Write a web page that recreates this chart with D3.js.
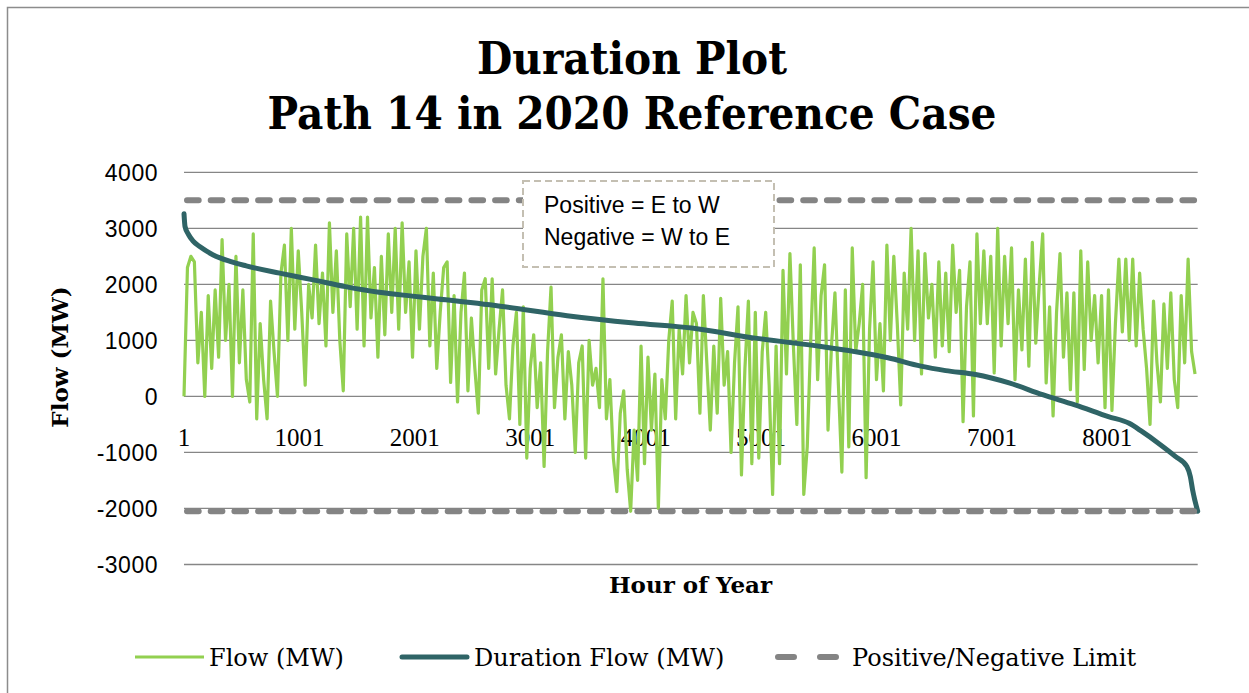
<!DOCTYPE html>
<meta charset="utf-8">
<style>
body { margin: 0; background: #fff; }
svg { display: block; }
.grid line { stroke: #868686; stroke-width: 1.3px; }
.ytick { font-family: "Liberation Sans", Arial, sans-serif; font-size: 23px; fill: #000; letter-spacing: 0.5px; }
.xtick { font-family: "Liberation Serif", serif; font-size: 25px; fill: #000; }
.slab { font-family: "DejaVu Serif", serif; font-weight: bold; fill: #000; }
.legend text { font-family: "DejaVu Serif", serif; font-size: 24px; fill: #000; }
.note { font-family: "Liberation Sans", Arial, sans-serif; font-size: 23px; fill: #000; }
</style>
<body>
<svg id="chart"></svg>
</body>
<script src="https://cdn.jsdelivr.net/npm/d3@7"></script>
<script>

var width = 1249,
    height = 693;

var titleLines = ["Duration Plot", "Path 14 in 2020 Reference Case"];
var yTicks = [-3000, -2000, -1000, 0, 1000, 2000, 3000, 4000];
var xTickHours = [1, 1001, 2001, 3001, 4001, 5001, 6001, 7001, 8001];
var hoursInYear = 8784;

var positiveLimit = 3500;
var negativeLimit = -2050;

var flowStepHours = 30;
var flowMW = [
  // hours 1 - 1000
  0, 2300, 2500, 2400, 600, 1500, 0, 1800, 500, 1900, 700, 2800, 1000, 2000, 0, 2500, 600,
  1900, 300, -100, 2900, -400, 1300, 300, -400, 1700, 800, 0, 2200, 2700, 1000, 3000, 1200, 2600,
  // 1001 - 2200
  1500, 200, 2000, 1400, 2700, 1300, 2200, 900, 3100, 1500, 2600, 1000, 100, 2900, 1600, 3000,
  1200, 3200, 900, 3200, 1400, 2300, 700, 2500, 1100, 2900, 1500, 3000, 1200, 3100, 1500, 2400,
  700, 2600, 1200, 2500, 3000, 900, 2200, 500,
  // 2200 - 4400
  1500, 2300, 2400, 250, 1800, -100, 1500, 2200, 100, 1400, 500, -300, 1900, 2100, 500, 2100,
  400, 1200, 1900, 200, -400, 900, 1500, -500, 1600, -1100, 500, 1100, -200, 600, -1250, 800,
  1950, -200, 700, 1100, -400, 800, 200, -1000, 600, 900, -1100, 1000, 200, 500, -200, 2100,
  -400, 300, -1100, -1700, -300, 100, -1300, -2050, -600, -1500, 900, -1200, 700, -600, 400,
  -2000, 300, -400, 1000, 1700, -400, 1200, 400, 1800, 600, 1500,
  // 4400 - 6600
  1300, -300, 1800, 600, -600, 900, -300, 1750, 200, 800, -1000, 600, 1600, -1400, 500, 1700,
  -1200, 1500, -1100, 800, 1500, 200, -1750, 900, -1200, 2250, 400, 2550, 900, -500, 2350,
  -1750, -900, 1000, 2650, 300, 1800, 2350, -600, 900, 1850, 200, -1350, 1900, -900, 2650, 800,
  1300, 2000, -1450, 1200, 2400, 300, 1300, 100, 2700, 1000, 2500, 1300, -150, 2200, 1200, 3000,
  1000, 2600, 400, 2550, 1400, 2000, 700, 2400, 900, 2200,
  // 6600 - 8761
  800, 2700, 1500, 2250, -450, 1600, 2400, -350, 2900, 1300, 2600, 1300, 2500, 420, 3000, 900,
  2500, 1300, 2650, 300, 1900, 830, 2450, 540, 2750, 950, 2000, 2900, 240, 1600, -350, 1500,
  2550, 700, 1850, 120, 1850, -100, 2600, 480, 2400, 1000, 1800, 600, 1800, -200, 1900, -250,
  1300, 2450, 1150, 2450, 1000, 2450, 900, 2200, 1200, 500, -500, 1700, 600, -100, 1650, 500,
  1850, 300, -200, 1800, 600, 2450, 800, 400
];

// same flows sorted high to low
var durationHours = [1, 10, 40, 80, 140, 250, 400, 540, 830, 1120, 1400, 1690, 1980, 2200, 2740,
  3320, 3900, 4400, 4950, 5520, 5810, 6100, 6385, 6600, 6860, 7150, 7440, 7720, 8010, 8190,
  8300, 8440, 8590, 8690, 8720, 8740, 8784];
var durationMW = [3260, 3030, 2890, 2770, 2670, 2530, 2410, 2330, 2200, 2080, 1960, 1860, 1790,
  1740, 1610, 1440, 1310, 1220, 1040, 890, 800, 690, 540, 460, 390, 240, 30, -150, -360, -480,
  -625, -830, -1070, -1250, -1430, -1670, -2050];

var noteLines = ["Positive = E to W", "Negative = W to E"];
var legendLabels = ["Flow (MW)", "Duration Flow (MW)", "Positive/Negative Limit"];

var flowColor = "#92d050",
    durationColor = "#2f6466",
    limitColor = "#848484";

var svg = d3.select("#chart")
    .attr("width", width)
    .attr("height", height);

var x = d3.scaleLinear().domain([1, hoursInYear]).range([184, 1197.7]);
var y = d3.scaleLinear().domain([-3000, 4000]).range([564.5, 172.3]);

// chart frame
svg.append("rect")
    .attr("x", 7.5).attr("y", 7.5)
    .attr("width", 1260).attr("height", 700)
    .attr("fill", "none")
    .attr("stroke", "#8c8c8c")
    .attr("stroke-width", 1.5);

// title
svg.append("g").selectAll("text")
    .data(titleLines)
    .enter().append("text")
    .attr("class", "slab")
    .attr("x", 632)
    .attr("y", function(d, i) { return 74 + i * 55; })
    .attr("text-anchor", "middle")
    .attr("font-size", 45)
    .attr("textLength", function(d, i) { return i == 0 ? 310 : 729; })
    .attr("lengthAdjust", "spacingAndGlyphs")
    .text(function(d) { return d; });

// gridlines
svg.append("g")
    .attr("class", "grid")
    .selectAll("line")
    .data(yTicks)
    .enter().append("line")
    .attr("x1", x.range()[0])
    .attr("x2", x.range()[1])
    .attr("y1", function(d) { return y(d); })
    .attr("y2", function(d) { return y(d); });

svg.append("g").selectAll("text")
    .data(yTicks)
    .enter().append("text")
    .attr("class", "ytick")
    .attr("x", 158)
    .attr("y", function(d) { return y(d); })
    .attr("dy", "0.36em")
    .attr("text-anchor", "end")
    .text(function(d) { return d; });

svg.append("g").selectAll("text")
    .data(xTickHours)
    .enter().append("text")
    .attr("class", "xtick")
    .attr("x", function(d) { return x(d); })
    .attr("y", 446)
    .attr("text-anchor", "middle")
    .text(function(d) { return d; });

// axis titles
svg.append("text")
    .attr("class", "slab")
    .attr("font-size", 23)
    .attr("x", 690.5)
    .attr("y", 593)
    .attr("text-anchor", "middle")
    .text("Hour of Year");

svg.append("text")
    .attr("class", "slab")
    .attr("font-size", 23)
    .attr("transform", "translate(68,357) rotate(-90)")
    .attr("text-anchor", "middle")
    .text("Flow (MW)");

// series
var flowLine = d3.line()
    .x(function(d, i) { return x(1 + i * flowStepHours); })
    .y(function(d) { return y(d); });

svg.append("path")
    .datum(flowMW)
    .attr("d", flowLine)
    .attr("fill", "none")
    .attr("stroke", flowColor)
    .attr("stroke-width", 3.2)
    .attr("stroke-linejoin", "round");

var durationLine = d3.line()
    .curve(d3.curveMonotoneX)
    .x(function(d, i) { return x(durationHours[i]); })
    .y(function(d) { return y(d); });

svg.append("path")
    .datum(durationMW)
    .attr("d", durationLine)
    .attr("fill", "none")
    .attr("stroke", durationColor)
    .attr("stroke-width", 5)
    .attr("stroke-linecap", "round");

svg.append("g").selectAll("line")
    .data([positiveLimit, negativeLimit])
    .enter().append("line")
    .attr("x1", x.range()[0] + 3)
    .attr("x2", x.range()[1])
    .attr("y1", function(d) { return y(d); })
    .attr("y2", function(d) { return y(d); })
    .attr("stroke", limitColor)
    .attr("stroke-width", 6)
    .attr("stroke-linecap", "round")
    .attr("stroke-dasharray", "11.7,12");

// direction note
var note = svg.append("g");
note.append("rect")
    .attr("x", 523).attr("y", 181)
    .attr("width", 251).attr("height", 86)
    .attr("fill", "#fff")
    .attr("stroke", "#c4bfb2")
    .attr("stroke-width", 2)
    .attr("stroke-dasharray", "7,4");
note.selectAll("text")
    .data(noteLines)
    .enter().append("text")
    .attr("class", "note")
    .attr("x", 544)
    .attr("y", function(d, i) { return 213 + i * 32; })
    .text(function(d) { return d; });

// legend
var legend = svg.append("g").attr("class", "legend");
var legendY = 657;

legend.append("line")
    .attr("x1", 135).attr("x2", 204)
    .attr("y1", legendY).attr("y2", legendY)
    .attr("stroke", flowColor).attr("stroke-width", 3);

legend.append("line")
    .attr("x1", 402).attr("x2", 467)
    .attr("y1", legendY).attr("y2", legendY)
    .attr("stroke", durationColor).attr("stroke-width", 5)
    .attr("stroke-linecap", "round");

legend.append("line")
    .attr("x1", 778).attr("x2", 836)
    .attr("y1", legendY).attr("y2", legendY)
    .attr("stroke", limitColor).attr("stroke-width", 6)
    .attr("stroke-linecap", "round")
    .attr("stroke-dasharray", "16,26");

legend.selectAll("text")
    .data(legendLabels)
    .enter().append("text")
    .attr("x", function(d, i) { return [209, 474, 852][i]; })
    .attr("y", legendY)
    .attr("dy", "0.36em")
    .text(function(d) { return d; });

</script>
